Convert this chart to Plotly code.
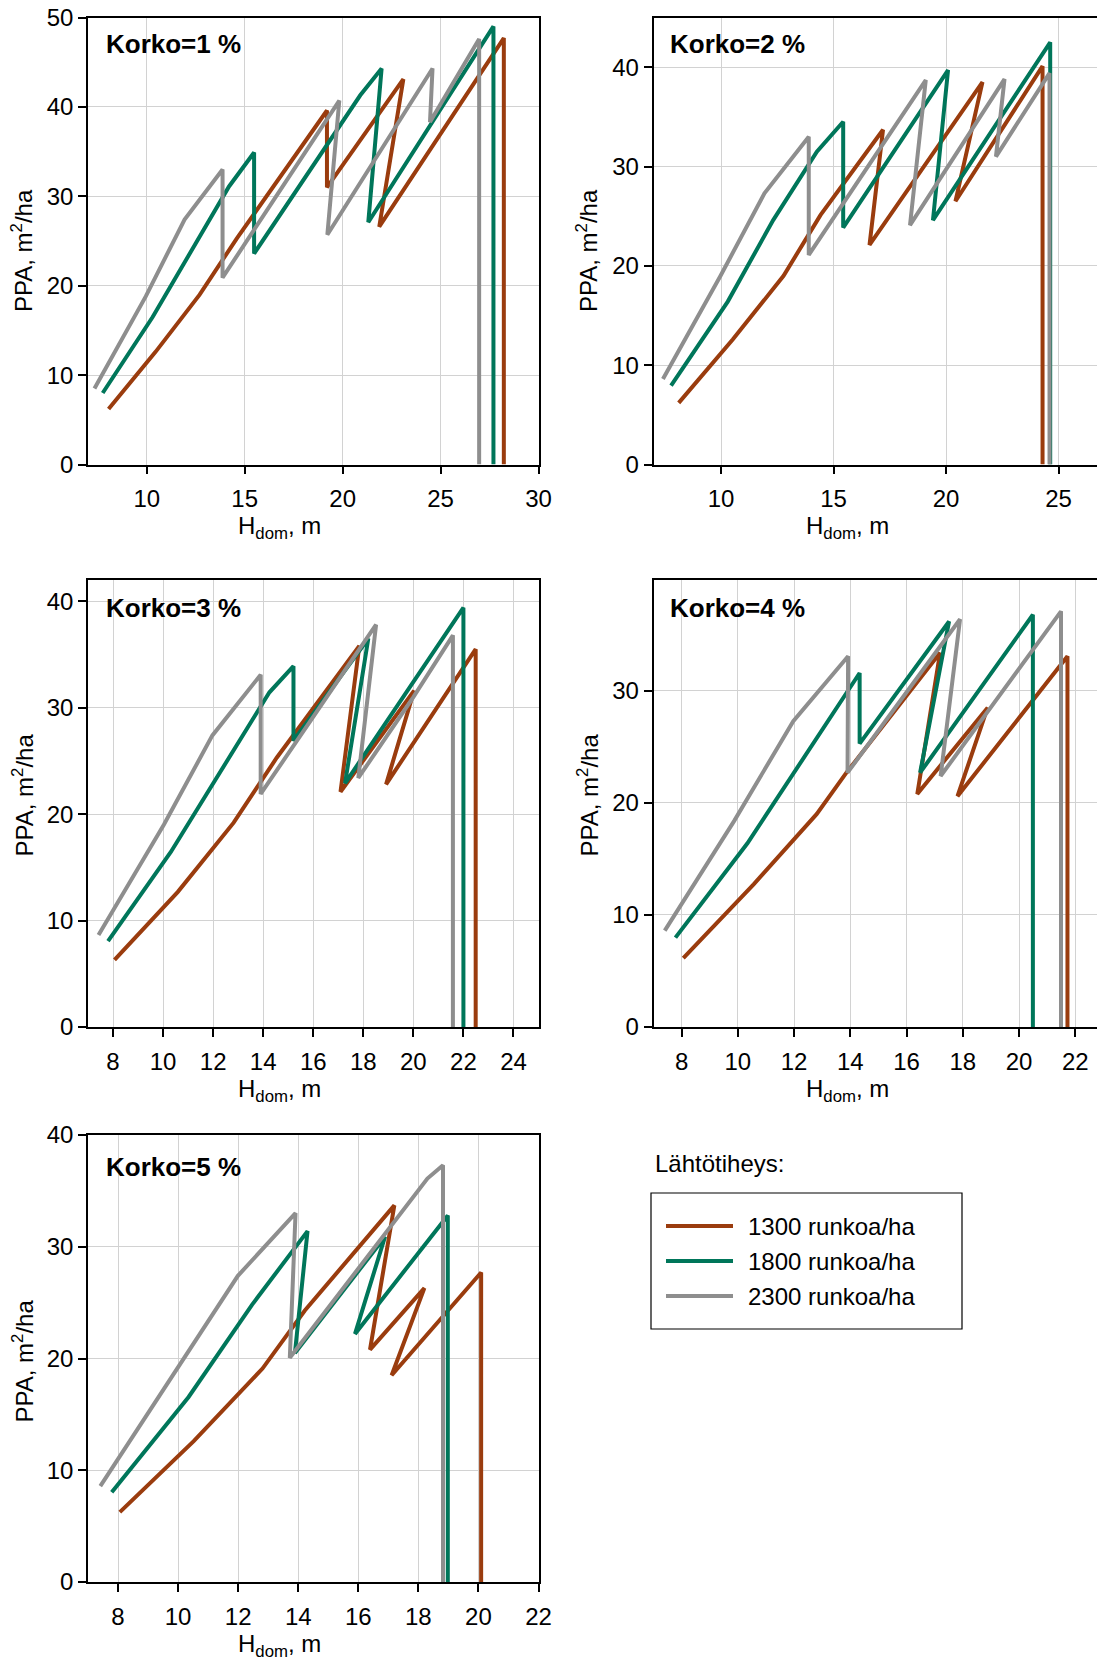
import plotly.graph_objects as go

W, H = 1097, 1664

# ------------------------------------------------------------------ data
korko_titles = ["Korko=1 %", "Korko=2 %", "Korko=3 %", "Korko=4 %", "Korko=5 %"]
series_names = ["1300 runkoa/ha", "1800 runkoa/ha", "2300 runkoa/ha"]
legend_title = "Lähtötiheys:"
x_title = "H<sub>dom</sub>, m"
y_title = "PPA, m<sup>2</sup>/ha"

# Korko = 1 %
k1_h_1300 = [8.05, 10.45, 12.7, 14.6, 19.2, 19.2, 23.1, 21.87, 28.23, 28.23]
k1_p_1300 = [6.2, 12.6, 19.0, 25.3, 39.6, 31.0, 43.1, 26.6, 47.7, 0]
k1_h_1800 = [7.75, 10.3, 14.2, 15.48, 15.48, 20.9, 21.99, 21.31, 27.7, 27.7]
k1_p_1800 = [8.0, 16.5, 31.1, 34.9, 23.6, 41.3, 44.3, 27.1, 49.0, 0]
k1_h_2300 = [7.33, 9.95, 11.93, 13.87, 13.87, 19.83, 19.22, 24.59, 24.46, 26.97, 26.97]
k1_p_2300 = [8.5, 18.8, 27.4, 33.0, 20.9, 40.7, 25.7, 44.3, 38.3, 47.6, 0]

# Korko = 2 %
k2_h_1300 = [8.12, 10.53, 12.78, 14.42, 17.2, 16.6, 21.62, 20.42, 24.29, 24.29]
k2_p_1300 = [6.2, 12.6, 19.0, 25.1, 33.7, 22.1, 38.5, 26.5, 40.1, 0]
k2_h_1800 = [7.78, 10.3, 12.32, 14.26, 15.43, 15.43, 20.09, 19.42, 24.63, 24.63]
k2_p_1800 = [7.95, 16.4, 24.6, 31.5, 34.5, 23.85, 39.7, 24.6, 42.5, 0]
k2_h_2300 = [7.42, 9.98, 11.93, 13.9, 13.9, 19.1, 18.4, 22.6, 22.22, 24.6, 24.6]
k2_p_2300 = [8.6, 19.0, 27.3, 33.0, 21.1, 38.7, 24.1, 38.8, 31.0, 39.4, 0]

# Korko = 3 %
k3_h_1300 = [8.06, 10.59, 12.82, 14.54, 17.84, 17.09, 20.03, 18.91, 22.49, 22.49]
k3_p_1300 = [6.3, 12.7, 19.2, 25.3, 35.8, 22.1, 31.6, 22.8, 35.5, 0]
k3_h_1800 = [7.8, 10.31, 14.25, 15.21, 15.21, 18.2, 17.27, 22.0, 22.0]
k3_p_1800 = [8.06, 16.45, 31.45, 33.9, 26.9, 36.5, 22.9, 39.4, 0]
k3_h_2300 = [7.42, 10.03, 11.97, 13.9, 13.9, 18.51, 17.8, 20.0, 21.58, 21.58]
k3_p_2300 = [8.65, 19.0, 27.4, 33.1, 21.9, 37.8, 23.4, 31.0, 36.8, 0]

# Korko = 4 %
k4_h_1300 = [8.06, 10.56, 12.8, 13.86, 17.19, 16.38, 18.88, 17.81, 21.72, 21.72]
k4_p_1300 = [6.14, 12.74, 19.0, 22.7, 33.4, 20.8, 28.5, 20.6, 33.1, 0]
k4_h_1800 = [7.78, 10.34, 14.33, 14.33, 17.51, 16.48, 20.49, 20.49]
k4_p_1800 = [7.98, 16.4, 31.6, 25.3, 36.2, 22.7, 36.8, 0]
k4_h_2300 = [7.4, 9.87, 11.97, 13.92, 13.9, 17.9, 17.21, 21.49, 21.49]
k4_p_2300 = [8.6, 18.4, 27.3, 33.1, 22.7, 36.4, 22.4, 37.1, 0]

# Korko = 5 %
k5_h_1300 = [8.06, 10.52, 12.81, 14.22, 17.2, 16.39, 18.2, 17.11, 20.09, 20.09]
k5_p_1300 = [6.25, 12.6, 19.1, 24.3, 33.7, 20.8, 26.3, 18.5, 27.7, 0]
k5_h_1800 = [7.79, 10.35, 12.46, 14.31, 13.89, 16.89, 15.89, 18.98, 18.98]
k5_p_1800 = [8.04, 16.56, 24.8, 31.4, 20.5, 30.9, 22.2, 32.8, 0]
k5_h_2300 = [7.41, 9.88, 11.99, 13.91, 13.72, 18.3, 18.82, 18.82]
k5_p_2300 = [8.58, 18.8, 27.4, 33.0, 20.06, 36.1, 37.3, 0]

panel_data = [
    [(k1_h_1300, k1_p_1300), (k1_h_1800, k1_p_1800), (k1_h_2300, k1_p_2300)],
    [(k2_h_1300, k2_p_1300), (k2_h_1800, k2_p_1800), (k2_h_2300, k2_p_2300)],
    [(k3_h_1300, k3_p_1300), (k3_h_1800, k3_p_1800), (k3_h_2300, k3_p_2300)],
    [(k4_h_1300, k4_p_1300), (k4_h_1800, k4_p_1800), (k4_h_2300, k4_p_2300)],
    [(k5_h_1300, k5_p_1300), (k5_h_1800, k5_p_1800), (k5_h_2300, k5_p_2300)],
]

# ------------------------------------------------------------------ style / layout
colors = ["#9a3c0e", "#00765a", "#8e8e8e"]
FONT = "Liberation Sans, Arial, Helvetica, sans-serif"
FS = 24
LW = 4

LEFT_PX = (88, 538.5)
RIGHT_PX = (653.5, 1097)
ROWS_PX = [(17.5, 464.5), (580, 1027), (1135, 1582)]

panels = [
    dict(col=LEFT_PX, row=ROWS_PX[0], xr=[7, 30], yr=[0, 50], dtx=5, right=False, toff=26.5, yoff=10),
    dict(col=RIGHT_PX, row=ROWS_PX[0], xr=[7, 26.71], yr=[0, 45], dtx=5, right=True, toff=26.5, yoff=10),
    dict(col=LEFT_PX, row=ROWS_PX[1], xr=[7, 25], yr=[0, 42], dtx=2, right=False, toff=27.5, yoff=-8),
    dict(col=RIGHT_PX, row=ROWS_PX[1], xr=[7, 22.77], yr=[0, 39.9], dtx=2, right=True, toff=27.5, yoff=-8),
    dict(col=LEFT_PX, row=ROWS_PX[2], xr=[7, 22], yr=[0, 40], dtx=2, right=False, toff=31.5, yoff=3),
]


def px_x(v):
    return v / W


def px_y(v):
    return 1 - v / H


fig = go.Figure()
layout = dict(
    width=W, height=H, autosize=False,
    margin=dict(l=0, r=0, t=0, b=0, pad=0, autoexpand=False),
    paper_bgcolor="white", plot_bgcolor="white",
    font=dict(family=FONT, size=FS, color="black"),
    showlegend=False,
)
annotations = []
shapes = []

for i, (p, data) in enumerate(zip(panels, panel_data)):
    n = i + 1
    xa = "x" if n == 1 else f"x{n}"
    ya = "y" if n == 1 else f"y{n}"
    for (hx, py), name, c in zip(data, series_names, colors):
        fig.add_trace(go.Scatter(
            x=hx, y=py, mode="lines", name=name,
            line=dict(color=c, width=LW),
            xaxis=xa, yaxis=ya, showlegend=False,
        ))
    axis_common = dict(
        showline=True, linecolor="black", linewidth=1.5,
        ticks="outside", ticklen=8, tickwidth=1.5, tickcolor="black",
        showgrid=True, gridcolor="#d2d2d2", gridwidth=1,
        zeroline=False, automargin=False,
        tickfont=dict(family=FONT, size=FS, color="black"),
    )
    layout["xaxis" if n == 1 else f"xaxis{n}"] = dict(
        axis_common,
        domain=[px_x(p["col"][0]), px_x(p["col"][1])],
        range=p["xr"], dtick=p["dtx"], tick0=0,
        anchor=ya, mirror=True, ticklabelstandoff=4,
    )
    layout["yaxis" if n == 1 else f"yaxis{n}"] = dict(
        axis_common,
        domain=[px_y(p["row"][1]), px_y(p["row"][0])],
        range=p["yr"], dtick=10, tick0=0,
        anchor=xa, mirror=not p["right"],
    )
    # panel title
    tx = 16 if not p["right"] else 14
    annotations.append(dict(
        text=f"<b>{korko_titles[i]}</b>", xref="paper", yref="paper",
        x=px_x(p["col"][0] + tx), y=px_y(p["row"][0] + p["toff"]),
        xanchor="left", yanchor="middle", showarrow=False,
        font=dict(family=FONT, size=26, color="black"),
    ))
    # axis titles
    xcenter = 279 if not p["right"] else 847
    annotations.append(dict(
        text=x_title, xref="paper", yref="paper",
        x=px_x(xcenter), y=px_y(p["row"][1] + 63),
        xanchor="center", yanchor="middle", showarrow=False,
        font=dict(family=FONT, size=FS, color="black"),
    ))
    ycenter_x = 22 if not p["right"] else 587
    annotations.append(dict(
        text=y_title, xref="paper", yref="paper", textangle=-90,
        x=px_x(ycenter_x), y=px_y((p["row"][0] + p["row"][1]) / 2 + p["yoff"]),
        xanchor="center", yanchor="middle", showarrow=False,
        font=dict(family=FONT, size=FS, color="black"),
    ))

# ------------------------------------------------------------------ legend (drawn)
annotations.append(dict(
    text=legend_title, xref="paper", yref="paper",
    x=px_x(653), y=px_y(1163), xanchor="left", yanchor="middle",
    showarrow=False, font=dict(family=FONT, size=FS, color="black"),
))
shapes.append(dict(
    type="rect", xref="paper", yref="paper",
    x0=px_x(651), x1=px_x(962), y0=px_y(1329), y1=px_y(1193),
    line=dict(color="black", width=1.2), fillcolor="rgba(0,0,0,0)",
))
for k, (name, c) in enumerate(zip(series_names, colors)):
    yy = 1226 + k * 35
    shapes.append(dict(
        type="line", xref="paper", yref="paper",
        x0=px_x(666), x1=px_x(733), y0=px_y(yy), y1=px_y(yy),
        line=dict(color=c, width=LW),
    ))
    annotations.append(dict(
        text=name, xref="paper", yref="paper",
        x=px_x(746), y=px_y(yy), xanchor="left", yanchor="middle",
        showarrow=False, font=dict(family=FONT, size=FS, color="black"),
    ))

layout["annotations"] = annotations
layout["shapes"] = shapes
fig.update_layout(**layout)

fig.write_html("out.html")
